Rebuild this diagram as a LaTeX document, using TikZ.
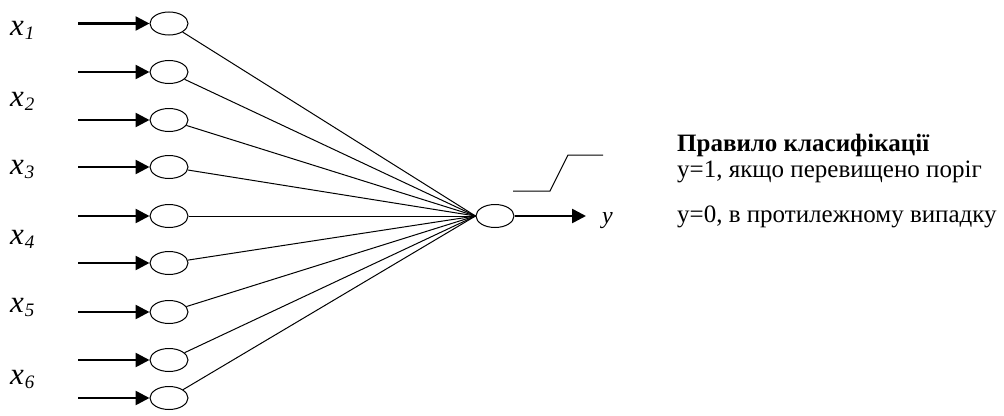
\documentclass[tikz,border=0pt]{standalone}
\usepackage{fontspec}
\setmainfont{Liberation Serif}
\usetikzlibrary{arrows.meta,shapes.geometric}
\newcommand{\xlab}[1]{\itshape x\kern1pt\raisebox{-0.3ex}{\fontsize{19}{19}\selectfont #1}}
\begin{document}
\begin{tikzpicture}[x=1pt,y=-1pt,
  neuron/.style={draw,ellipse,minimum width=38pt,minimum height=23pt,inner sep=0pt,line width=1pt},
  inarrow/.style={line width=2.6pt,-{Triangle[length=14pt,width=14pt]}},
  conn/.style={line width=1pt},
  xlabel/.style={font=\fontsize{31}{31}\selectfont,anchor=base west,inner sep=0pt},
  rule/.style={font=\fontsize{25}{25}\selectfont,anchor=base west,inner sep=0pt}]
\useasboundingbox (0,0) rectangle (1004,415);
% input neurons
\foreach \i/\y in {1/23.5,2/72,3/120,4/167,5/216,6/263,7/312,8/360,9/398}{
  \node[neuron] (n\i) at (169,\y) {};
  \coordinate (s\i) at (78,\y);
  \draw[inarrow] (s\i) -- (n\i.west);
}
% output neuron
\node[neuron] (out) at (495,216) {};
\coordinate (conv) at (out.west);
\foreach \i in {1,...,9}{ \draw[conn] (n\i) -- (conv); }
\coordinate (yend) at (586,216);
\draw[inarrow] (out.east) -- (yend);
\node[anchor=base west,inner sep=0pt,font=\fontsize{24}{24}\selectfont\itshape] (ylab) at (602,223) {y};
% step function
\coordinate (st1) at (513,191);
\coordinate (st2) at (550,191);
\coordinate (st3) at (568,155);
\coordinate (st4) at (603,155);
\draw[conn] (st1) -- (st2) -- (st3) -- (st4);
% labels
\node[xlabel] (x1) at (10,35) {\xlab{1}};
\node[xlabel] (x2) at (10,106) {\xlab{2}};
\node[xlabel] (x3) at (10,174) {\xlab{3}};
\node[xlabel] (x4) at (10,244) {\xlab{4}};
\node[xlabel] (x5) at (10,312) {\xlab{5}};
\node[xlabel] (x6) at (10,384) {\xlab{6}};
% rule text
\node[rule,font=\fontsize{25}{25}\selectfont\bfseries] (r1) at (677,151) {Правило класифікації};
\node[rule] (r2) at (677,177) {y=1, якщо перевищено поріг};
\node[rule] (r3) at (677,222) {y=0, в протилежному випадку};
\end{tikzpicture}
\end{document}
